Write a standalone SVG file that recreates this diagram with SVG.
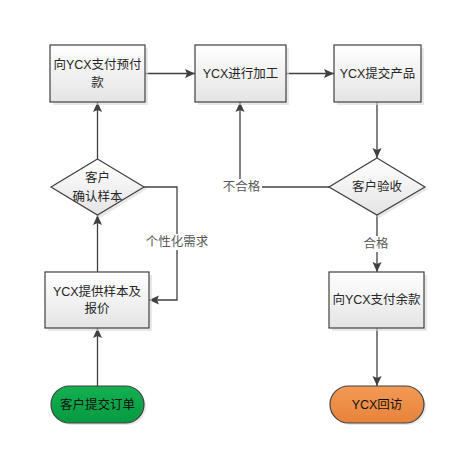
<svg xmlns="http://www.w3.org/2000/svg" width="472" height="472" viewBox="0 0 472 472">
<style>
text{font-family:"Liberation Sans","Noto Sans CJK SC",sans-serif;font-size:12.5px;fill:#262626;text-anchor:middle;dominant-baseline:central}
.box{fill:url(#gBox);stroke:#404040;stroke-width:1.2}
.sh{fill:#d9d9d9;opacity:0.6}
.ln{fill:none;stroke:#404040;stroke-width:1.3}
.lbl{fill:#595959}
</style>
<defs>
<linearGradient id="gBox" x1="0" y1="0" x2="0" y2="1"><stop offset="0" stop-color="#ffffff"/><stop offset="1" stop-color="#e4e4e4"/></linearGradient>
<linearGradient id="gGreen" x1="0" y1="0" x2="0" y2="1"><stop offset="0" stop-color="#14b052"/><stop offset="1" stop-color="#069a40"/></linearGradient>
<linearGradient id="gOrange" x1="0" y1="0" x2="0" y2="1"><stop offset="0" stop-color="#f29a55"/><stop offset="1" stop-color="#e8823a"/></linearGradient>
<marker id="arr" markerWidth="10" markerHeight="10" viewBox="0 0 10 10" refX="10" refY="5" orient="auto" markerUnits="userSpaceOnUse"><path d="M0,0.5 L10,5 L0,9.5 L2,5 Z" fill="#404040"/></marker>
</defs>
<rect width="472" height="472" fill="#ffffff"/>
<g id="connectors">
<path class="ln" d="M145,73.5 H195" marker-end="url(#arr)"/>
<path class="ln" d="M286,73.5 H334" marker-end="url(#arr)"/>
<path class="ln" d="M377,102 V158" marker-end="url(#arr)"/>
<path class="ln" d="M329,187 H240 V102" marker-end="url(#arr)"/>
<path class="ln" d="M97.5,159 V102" marker-end="url(#arr)"/>
<path class="ln" d="M144,187 H177 V300 H149" marker-end="url(#arr)"/>
<path class="ln" d="M97.5,272 V215" marker-end="url(#arr)"/>
<path class="ln" d="M97.5,386 V328" marker-end="url(#arr)"/>
<path class="ln" d="M377,215 V272" marker-end="url(#arr)"/>
<path class="ln" d="M377,328 V386" marker-end="url(#arr)"/>
<rect x="221" y="179" width="41" height="16" fill="#ffffff"/>
<text class="lbl" x="241.5" y="187">不合格</text>
<rect x="144" y="234" width="66" height="16" fill="#ffffff"/>
<text class="lbl" x="177" y="242">个性化需求</text>
<rect x="361" y="236" width="30" height="16" fill="#ffffff"/>
<text class="lbl" x="376" y="244">合格</text>
</g>
<g id="n1">
<rect class="sh" x="53" y="48" width="95" height="57"/>
<rect class="box" x="50" y="45" width="95" height="57"/>
<text x="97.5" y="65">向YCX支付预付</text>
<text x="97.5" y="83">款</text>
</g>
<g id="n2">
<rect class="sh" x="198" y="48" width="91" height="57"/>
<rect class="box" x="195" y="45" width="91" height="57"/>
<text x="240.5" y="73.5">YCX进行加工</text>
</g>
<g id="n3">
<rect class="sh" x="337" y="48" width="87" height="57"/>
<rect class="box" x="334" y="45" width="87" height="57"/>
<text x="377.5" y="73.5">YCX提交产品</text>
</g>
<g id="n4">
<path class="sh" d="M379,161 L428,189 L379,218 L332,189 Z"/>
<path class="box" d="M377,158 L425,187 L377,215 L329,187 Z"/>
<text x="377" y="187">客户验收</text>
</g>
<g id="n5">
<path class="sh" d="M100,162 L147,189 L100,218 L53,189 Z"/>
<path class="box" d="M97.5,159 L144,187 L97.5,215 L51,187 Z"/>
<text x="97.5" y="178">客户</text>
<text x="97.5" y="196.5">确认样本</text>
</g>
<g id="n6">
<rect class="sh" x="48" y="275" width="104" height="56"/>
<rect class="box" x="45" y="272" width="104" height="56"/>
<text x="97" y="291.5">YCX提供样本及</text>
<text x="97" y="309">报价</text>
</g>
<g id="n7">
<rect class="sh" x="332" y="275" width="95" height="56"/>
<rect class="box" x="329" y="272" width="95" height="56"/>
<text x="376.5" y="300">向YCX支付余款</text>
</g>
<g id="n8">
<rect class="sh" x="53" y="388" width="93" height="37" rx="18.5"/>
<rect x="51" y="386" width="93" height="37" rx="18.5" fill="url(#gGreen)" stroke="#404040" stroke-width="1.2"/>
<text x="97.5" y="404.5" style="fill:#111">客户提交订单</text>
</g>
<g id="n9">
<rect class="sh" x="332" y="388" width="94" height="37" rx="18.5"/>
<rect x="330" y="386" width="94" height="37" rx="18.5" fill="url(#gOrange)" stroke="#404040" stroke-width="1.2"/>
<text x="377" y="404.5" style="fill:#111">YCX回访</text>
</g>
</svg>
